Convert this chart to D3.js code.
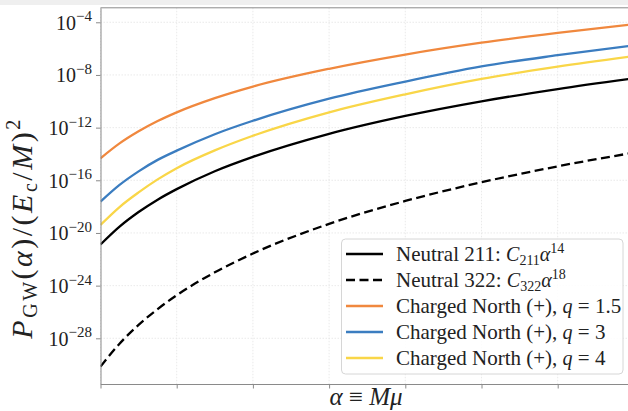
<!DOCTYPE html>
<html>
<head>
<meta charset="utf-8">
<script src="https://cdn.jsdelivr.net/npm/d3@7"></script>
<style>
    body { margin: 0; background: #ffffff; }
    svg text { font-family: "Liberation Serif", "DejaVu Serif", serif; fill: #222; }
</style>
</head>
<body>
<div id="chart"></div>
<script>
var alphas = [0.05, 0.0625, 0.075, 0.0875, 0.1, 0.125, 0.15, 0.2, 0.25, 0.3, 0.35, 0.4];

var neutral211 = [1.32e-21, 3.02e-20, 3.89e-19, 3.39e-18, 2.14e-17, 4.9e-16, 6.03e-15, 3.39e-13, 7.76e-12, 1.0e-10, 8.51e-10, 5.5e-9];
var neutral322 = [7.08e-31, 3.89e-29, 1.05e-27, 1.66e-26, 1.86e-25, 1.02e-23, 2.75e-22, 4.9e-20, 2.69e-18, 7.08e-17, 1.15e-15, 1.26e-14];
var chargedQ15 = [4.68e-15, 6.31e-14, 5.25e-13, 3.16e-12, 1.45e-11, 1.74e-10, 1.32e-9, 2.95e-8, 3.55e-7, 2.82e-6, 1.58e-5, 7.24e-5];
var chargedQ3 = [2.4e-18, 4.47e-17, 4.79e-16, 3.55e-15, 1.78e-14, 3.16e-13, 3.31e-12, 1.58e-10, 3.16e-9, 4.47e-8, 3.16e-7, 1.78e-6];
var chargedQ4 = [4.07e-20, 9.33e-19, 1.2e-17, 1.17e-16, 8.32e-16, 1.86e-14, 2.4e-13, 1.45e-11, 3.39e-10, 5.01e-9, 4.27e-8, 2.69e-7];

var xTicks = [0.05, 0.1, 0.15, 0.2, 0.25, 0.3, 0.35, 0.4];
var yTickExps = [-4, -8, -12, -16, -20, -24, -28];

var series = [
    { name: "n211", values: neutral211, color: "#000000", dash: null },
    { name: "n322", values: neutral322, color: "#000000", dash: "9,4.5" },
    { name: "q15", values: chargedQ15, color: "#f0883e", dash: null },
    { name: "q3", values: chargedQ3, color: "#3b7dc0", dash: null },
    { name: "q4", values: chargedQ4, color: "#f9d648", dash: null }
];

// legend label pieces: text, style (i = italic math, sub, sup, back = back to baseline)
var legendRows = [
    [["Neutral 211: "], ["C", "i"], ["211", "sub"], ["\u03b1", "back"], ["14", "sup"]],
    [["Neutral 322: "], ["C", "i"], ["322", "sub"], ["\u03b1", "back"], ["18", "sup"]],
    [["Charged North (+), "], ["q", "i"], [" = 1.5"]],
    [["Charged North (+), "], ["q", "i"], [" = 3"]],
    [["Charged North (+), "], ["q", "i"], [" = 4"]]
];

var W = 628, H = 411;
var plot = { left: 100.5, right: 633.9, top: 7.8, bottom: 384 };

var svg = d3.select("#chart").append("svg")
    .attr("width", W)
    .attr("height", H);

// light strip at top of the screenshot
svg.append("rect").attr("x", 0).attr("y", 0).attr("width", W).attr("height", 5).attr("fill", "#efefef");

var x = d3.scaleLinear().domain([0.05, 0.4]).range([plot.left, plot.right]);
var y = d3.scaleLog().domain([Math.pow(10, -31.47), Math.pow(10, -2.9)]).range([plot.bottom, plot.top]);

// grid
var grid = svg.append("g").attr("stroke", "#e4e4e4").attr("stroke-width", 0.8).attr("stroke-dasharray", "1.5,1.5");
grid.selectAll(".gx").data(xTicks).enter().append("line")
    .attr("x1", function(d){ return x(d); }).attr("x2", function(d){ return x(d); })
    .attr("y1", plot.top).attr("y2", plot.bottom);
grid.selectAll(".gy").data(yTickExps).enter().append("line")
    .attr("x1", plot.left).attr("x2", plot.right)
    .attr("y1", function(d){ return y(Math.pow(10, d)); }).attr("y2", function(d){ return y(Math.pow(10, d)); });

// curves
svg.append("clipPath").attr("id", "clip").append("rect")
    .attr("x", plot.left).attr("y", plot.top)
    .attr("width", plot.right - plot.left).attr("height", plot.bottom - plot.top);

var line = d3.line()
    .x(function(d){ return x(d[0]); })
    .y(function(d){ return y(d[1]); })
    .curve(d3.curveMonotoneX);

svg.append("g").attr("clip-path", "url(#clip)")
    .selectAll("path").data(series).enter().append("path")
        .attr("d", function(s){ return line(alphas.map(function(a, i){ return [a, s.values[i]]; })); })
        .attr("fill", "none")
        .attr("stroke", function(s){ return s.color; })
        .attr("stroke-width", 2.3)
        .attr("stroke-dasharray", function(s){ return s.dash; });

// axes
var xAxis = svg.append("g").attr("transform", "translate(0," + plot.bottom + ")")
    .call(d3.axisBottom(x).tickValues(xTicks).tickFormat("").tickSize(4.5).tickSizeOuter(0));
var yAxis = svg.append("g").attr("transform", "translate(" + plot.left + ",0)")
    .call(d3.axisLeft(y).tickValues(yTickExps.map(function(e){ return Math.pow(10, e); })).tickFormat("").tickSize(4.5).tickSizeOuter(0));
[xAxis, yAxis].forEach(function(a){
    a.select(".domain").attr("stroke", "#8a8a8a");
    a.selectAll(".tick line").attr("stroke", "#8a8a8a");
});
svg.append("line").attr("x1", plot.left).attr("x2", W).attr("y1", plot.top).attr("y2", plot.top)
    .attr("stroke", "#8a8a8a");

// y tick labels 10^-n
var yl = svg.append("g").selectAll("text").data(yTickExps).enter().append("text")
    .attr("x", 92)
    .attr("y", function(d){ return y(Math.pow(10, d)) + 7.5; })
    .attr("text-anchor", "end")
    .style("font-size", "20px");
yl.append("tspan").text("10");
yl.append("tspan").attr("dy", -8.5).style("font-size", "15px").text(function(d){ return "\u2212" + (-d); });

// axis titles
svg.append("text")
    .attr("x", 366).attr("y", 405)
    .attr("text-anchor", "middle")
    .style("font-size", "25px")
    .call(function(t){
        t.append("tspan").style("font-style", "italic").text("\u03b1");
        t.append("tspan").text(" \u2261 ");
        t.append("tspan").style("font-style", "italic").text("M\u03bc");
    });

var yt = svg.append("text")
    .attr("transform", "translate(32,228) rotate(-90)")
    .attr("text-anchor", "middle")
    .style("font-size", "30px")
    .style("letter-spacing", "2.5px");
yt.append("tspan").style("font-style", "italic").text("P");
yt.append("tspan").attr("dy", 5).style("font-size", "20px").text("GW");
yt.append("tspan").attr("dy", -5).text("(");
yt.append("tspan").style("font-style", "italic").text("\u03b1");
yt.append("tspan").text(")/(");
yt.append("tspan").style("font-style", "italic").text("E");
yt.append("tspan").attr("dy", 5).style("font-size", "20px").text("c");
yt.append("tspan").attr("dy", -5).text("/");
yt.append("tspan").style("font-style", "italic").text("M");
yt.append("tspan").text(")");
yt.append("tspan").attr("dy", -12).style("font-size", "20px").text("2");

// legend
var legend = svg.append("g");
legend.append("rect")
    .attr("x", 341.5).attr("y", 239).attr("width", 281.5).attr("height", 135)
    .attr("rx", 4).attr("fill", "#ffffff").attr("fill-opacity", 0.85)
    .attr("stroke", "#d6d6d6");

var rows = legend.selectAll(".row").data(series).enter().append("g")
    .attr("transform", function(d, i){ return "translate(0," + (254 + i * 26) + ")"; });
rows.append("line")
    .attr("x1", 346).attr("x2", 383).attr("y1", 0).attr("y2", 0)
    .attr("stroke", function(s){ return s.color; })
    .attr("stroke-width", 2.3)
    .attr("stroke-dasharray", function(s){ return s.dash; });
rows.append("text")
    .attr("x", 396).attr("y", 6.5)
    .style("font-size", "21px")
    .each(function(s, i){
        var t = d3.select(this);
        legendRows[i].forEach(function(p){
            var sp = t.append("tspan").text(p[0]);
            if (p[1] === "i") sp.style("font-style", "italic").style("font-size", "20px");
            if (p[1] === "sub") sp.attr("dy", 4).style("font-size", "14px");
            if (p[1] === "back") sp.attr("dy", -4).style("font-style", "italic").style("font-size", "20px");
            if (p[1] === "sup") sp.attr("dy", -8).style("font-size", "14px");
        });
    });
</script>
</body>
</html>
